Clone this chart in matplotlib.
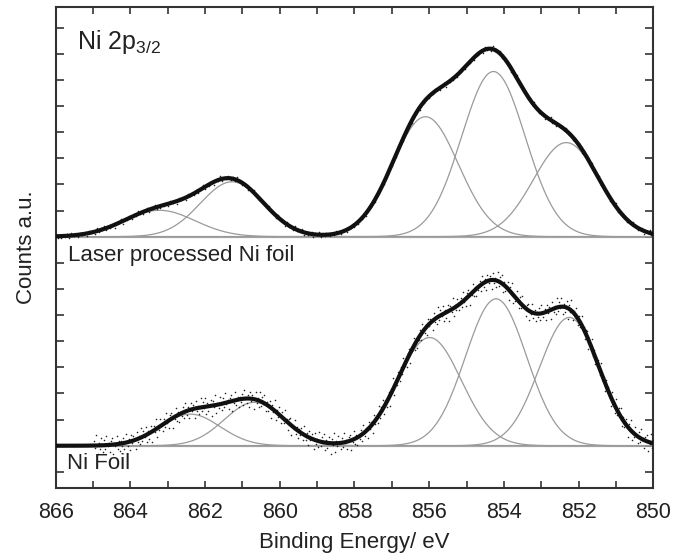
import numpy as np
import matplotlib
matplotlib.use("Agg")
import matplotlib.pyplot as plt

plt.rcParams['font.family'] = ['Liberation Sans', 'DejaVu Sans']
plt.rcParams['mathtext.default'] = 'regular'

# fitted Ni 2p3/2 components: centre (eV), height (a.u.), sigma (eV)
laser_centres = [863.22, 861.28, 856.10, 854.28, 852.33]
laser_heights = [1.01, 2.10, 4.59, 6.32, 3.60]
laser_sigmas = [0.95, 0.85, 0.88, 0.85, 0.88]

foil_centres = [862.40, 860.68, 855.99, 854.21, 852.25]
foil_heights = [1.21, 1.66, 4.14, 5.62, 4.91]
foil_sigmas = [0.80, 0.80, 0.85, 0.82, 0.80]

laser_offset = 8
foil_offset = 0

# scatter of the measured points about the fit (read by eye, relative units)
residuals = [0.3, -0.5, 0.8, -0.2, 0.1, -0.9, 0.6, 0.4, -0.7, 0.2,
             -0.1, 0.9, -0.4, 0.5, -0.6, 0.0, 0.7, -0.3, 0.2, -0.8,
             1.0, -0.2, 0.4, -1.0, 0.6, 0.1, -0.5, 0.3, -0.7, 0.8,
             -0.1, 0.5, -0.4, 0.9, -0.6, 0.2, -0.3, 0.7, -0.9, 0.1,
             0.4, -0.2, 0.6, -0.8, 0.3, -0.4, 0.0, 0.8, -0.6, 0.5,
             -0.3, 0.2, -0.7]
laser_noise = 0.12
foil_noise = 0.40


def component(e, c, h, s):
    return h * np.exp(-(e - c) ** 2 / (2 * s ** 2))


fig = plt.figure(figsize=(6.81, 5.6), dpi=100)
ax = fig.add_axes([0.0818, 0.128, 0.8775, 0.860])

energy = np.linspace(850, 866, 1601)

for centres, heights, sigmas, off, noise, e_start, step in [
        (laser_centres, laser_heights, laser_sigmas, laser_offset, laser_noise, 866.0, 0.05),
        (foil_centres, foil_heights, foil_sigmas, foil_offset, foil_noise, 865.0, 0.03)]:
    ax.axhline(off, color='#b4b4b4', lw=1.6, zorder=1)
    total = np.zeros_like(energy)
    for c, h, s in zip(centres, heights, sigmas):
        comp = component(energy, c, h, s)
        total += comp
        ax.plot(energy, comp + off, color='#9a9a9a', lw=0.9, zorder=2)
    # measured points
    e_pts = np.arange(850.0, e_start, step)
    fit_pts = sum(component(e_pts, c, h, s) for c, h, s in zip(centres, heights, sigmas))
    res = np.resize(residuals, len(e_pts))
    ax.scatter(e_pts, fit_pts + off + noise * res, s=1.3, color='#222222', lw=0, zorder=3)
    ax.plot(energy, total + off, color='#111111', lw=3.0, zorder=4)

ax.set_xlim(866, 850)
ax.set_ylim(-1.63, 16.8)
ax.set_xticks(np.arange(866, 849, -2))
ax.set_xticks(np.arange(865, 850, -2), minor=True)
ax.set_yticks(np.arange(-1, 17))
ax.set_yticklabels([])
ax.tick_params(axis='x', which='both', direction='in', length=5, width=1.2,
               top=True, labelsize=15.5, pad=10, colors='#333333', labelcolor='#222222')
ax.tick_params(axis='y', direction='in', length=6, width=1.2, right=True, colors='#333333')
for sp in ax.spines.values():
    sp.set_linewidth(1.5)
    sp.set_color('#333333')

ax.set_xlabel('Binding Energy/ eV', fontsize=16, labelpad=6, color='#222222')
ax.set_ylabel('Counts a.u.', fontsize=16, labelpad=10, color='#222222')

ax.text(0.035, 0.955, 'Ni 2p$_{3/2}$', transform=ax.transAxes, fontsize=18,
        va='top', ha='left', color='#222222')
ax.text(0.021, 0.483, 'Laser processed Ni foil', transform=ax.transAxes, fontsize=16,
        va='center', ha='left', color='#222222')
ax.text(0.019, 0.052, 'Ni Foil', transform=ax.transAxes, fontsize=16,
        va='center', ha='left', color='#222222')

fig.savefig('out.png', dpi=100)
